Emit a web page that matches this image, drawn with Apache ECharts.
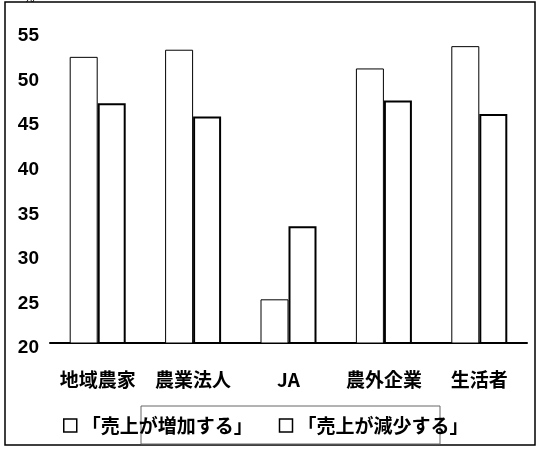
<!DOCTYPE html>
<html>
<head>
<meta charset="utf-8">
<script src="https://cdn.jsdelivr.net/npm/echarts@6/dist/echarts.min.js"></script>
<style>
  html, body { margin: 0; padding: 0; background: #fff; }
  #chart { width: 539px; height: 457px; }
</style>
</head>
<body>
<div id="chart"></div>
<script>
// カテゴリと値
const categories = ['地域農家', '農業法人', 'JA', '農外企業', '生活者'];
const increaseName = '「売上が増加する」';
const decreaseName = '「売上が減少する」';
const increaseValues = [52.1, 52.9, 24.9, 50.8, 53.3];
const decreaseValues = [46.9, 45.4, 33.1, 47.2, 45.7];
const yTicks = [20, 25, 30, 35, 40, 45, 50, 55];

const chart = echarts.init(document.getElementById('chart'));

const font = '"Noto Sans CJK JP", "Liberation Sans", sans-serif';

const option = {
  backgroundColor: '#fff',
  animation: false,
  grid: {
    left: 50,
    right: 12,
    top: 31,
    bottom: 114
  },
  legend: {
    top: 411,
    left: 58,
    itemGap: 26,
    itemWidth: 13,
    itemHeight: 13,
    textStyle: {
      color: '#000',
      fontSize: 19,
      fontWeight: 'bold',
      fontFamily: font
    },
    data: [
      { name: increaseName, icon: 'rect', itemStyle: { color: '#fff', borderColor: '#000', borderWidth: 1.5 } },
      { name: decreaseName, icon: 'rect', itemStyle: { color: '#fff', borderColor: '#000', borderWidth: 1.5 } }
    ]
  },
  xAxis: {
    type: 'category',
    data: categories,
    axisLine: { lineStyle: { color: '#000', width: 2 } },
    axisTick: { show: false },
    axisLabel: {
      interval: 0,
      hideOverlap: false,
      color: '#000',
      fontSize: 19,
      fontWeight: 'bold',
      fontFamily: font,
      margin: 27
    }
  },
  yAxis: {
    type: 'value',
    min: yTicks[0],
    max: yTicks[yTicks.length - 1],
    interval: 5,
    axisLine: { show: false },
    axisTick: { show: false },
    splitLine: { show: false },
    axisLabel: {
      color: '#000',
      fontSize: 19,
      fontWeight: 'bold',
      fontFamily: '"Liberation Sans", Arial, sans-serif',
      margin: 11,
      verticalAlign: 'top',
      lineHeight: 10
    }
  },
  series: [
    {
      name: increaseName,
      type: 'bar',
      data: increaseValues,
      barWidth: 28,
      barGap: '0%',
      itemStyle: { color: '#fff', borderColor: '#000', borderWidth: 1 }
    },
    {
      name: decreaseName,
      type: 'bar',
      data: decreaseValues,
      barWidth: 28,
      barGap: '0%',
      itemStyle: { color: '#fff', borderColor: '#000', borderWidth: 2 }
    }
  ],
  graphic: [
    {
      type: 'rect',
      shape: { x: 5, y: 2, width: 530, height: 443 },
      style: { fill: 'none', stroke: '#000', lineWidth: 1.5 },
      silent: true
    },
    {
      type: 'rect',
      shape: { x: 141, y: 406, width: 299, height: 38 },
      style: { fill: 'none', stroke: '#666', lineWidth: 1 },
      silent: true
    },
    {
      type: 'text',
      left: 24,
      top: -7,
      style: { text: '%', fill: '#000', font: '12px "Liberation Sans", sans-serif' },
      silent: true
    }
  ]
};

chart.setOption(option);
</script>
</body>
</html>
